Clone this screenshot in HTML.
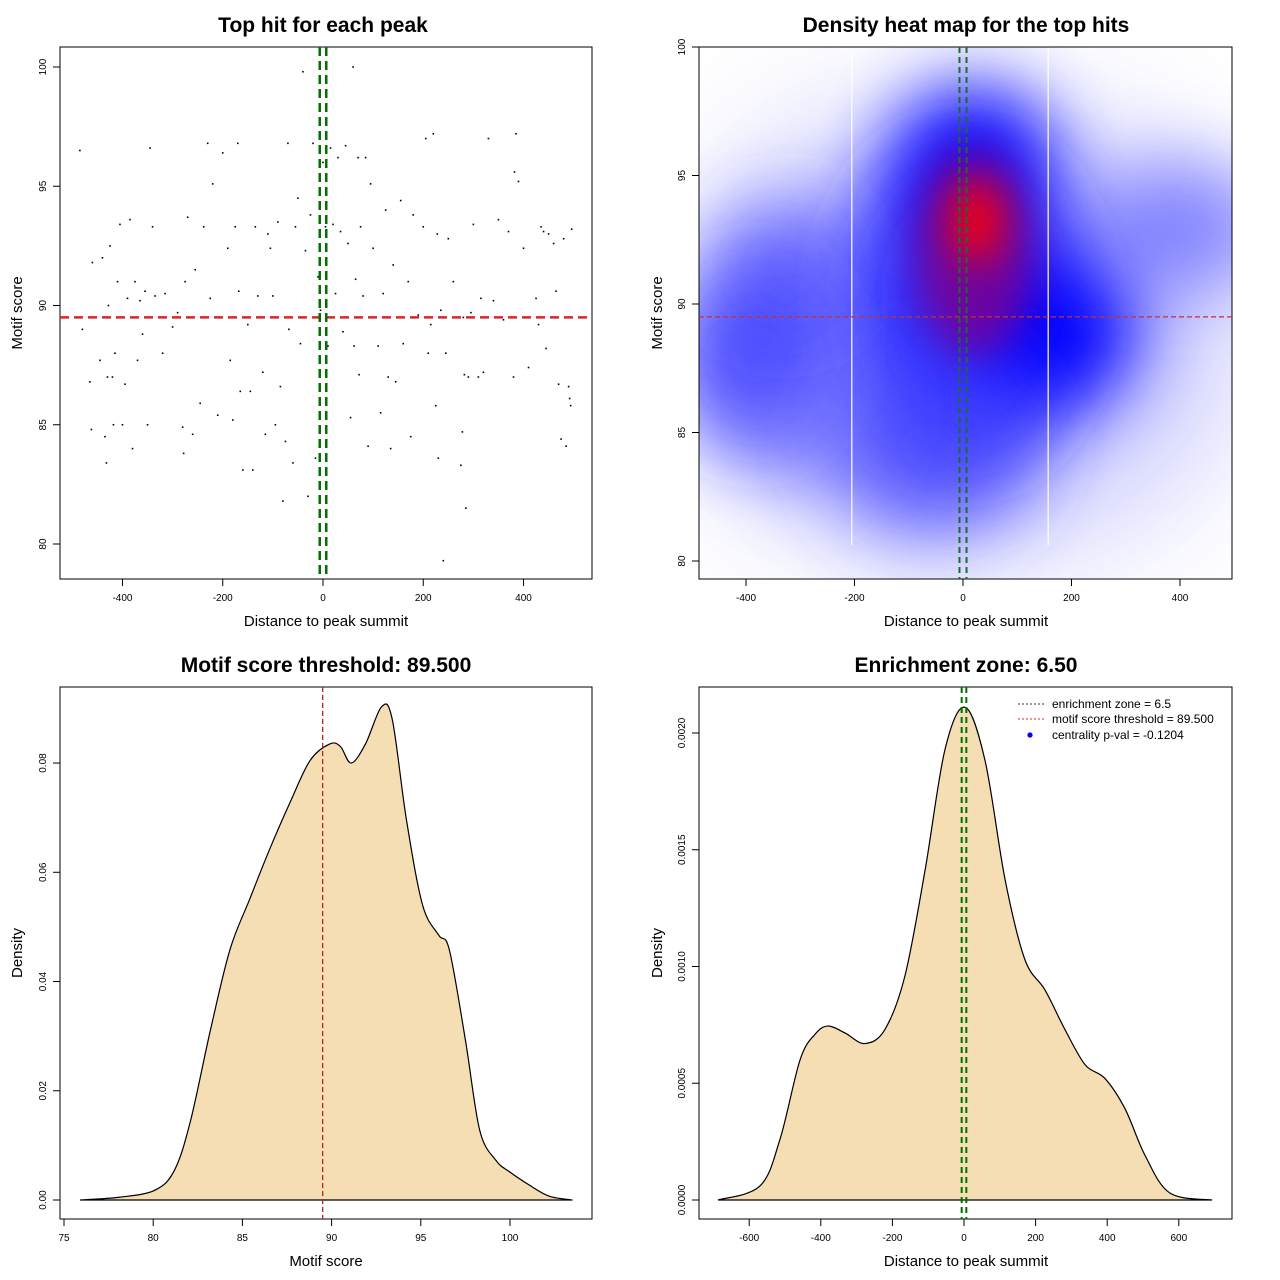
<!DOCTYPE html>
<html><head><meta charset="utf-8"><style>
body{margin:0;background:#fff;}
svg{display:block;font-family:"Liberation Sans",sans-serif;}
</style></head><body>
<svg id="c" width="1280" height="1280" viewBox="0 0 1280 1280" xmlns="http://www.w3.org/2000/svg">
<defs>
<filter id="b1" filterUnits="userSpaceOnUse" x="500" y="-200" width="900" height="1000"><feGaussianBlur stdDeviation="38"/></filter>
<filter id="b2" filterUnits="userSpaceOnUse" x="500" y="-200" width="900" height="1000"><feGaussianBlur stdDeviation="20"/></filter>
<filter id="b3" filterUnits="userSpaceOnUse" x="500" y="-200" width="900" height="1000"><feGaussianBlur stdDeviation="60"/></filter>
<clipPath id="cp2"><rect x="699" y="47" width="533" height="532"/></clipPath>
</defs>
</svg>
<script>
// ---- data ----
const scatterX=[-485,-480,-465,-460,-462,-445,-440,-435,-432,-430,-428,-425,-420,-418,-415,-410,-405,-400,-395,-390,-385,-380,-375,-370,-365,-360,-355,-350,-345,-340,-335,-320,-315,-300,-290,-280,-278,-275,-270,-260,-255,-245,-238,-230,-225,-220,-210,-200,-190,-185,-180,-175,-170,-168,-165,-160,-150,-145,-140,-135,-130,-120,-115,-110,-105,-100,-95,-90,-85,-80,-75,-70,-68,-60,-55,-50,-45,-40,-35,-30,-25,-20,-15,-10,-5,0,5,10,15,20,25,30,35,40,45,50,55,60,62,65,70,72,75,80,85,90,95,100,110,115,120,125,130,135,140,145,155,160,170,175,180,190,200,205,210,215,220,225,228,230,235,240,245,250,260,275,278,280,282,285,290,295,300,310,315,320,330,340,350,360,370,380,382,385,390,400,410,425,430,435,440,445,450,460,465,470,475,480,490,492,494,496,485];
const scatterY=[96.5,89,86.8,91.8,84.8,87.7,92,84.5,83.4,87,90,92.5,87,85,88,91,93.4,85,86.7,90.3,93.6,84,91,87.7,90.2,88.8,90.6,85,96.6,93.3,90.4,88,90.5,89.1,89.7,84.9,83.8,91,93.7,84.6,91.5,85.9,93.3,96.8,90.3,95.1,85.4,96.4,92.4,87.7,85.2,93.3,96.8,90.6,86.4,83.1,89.2,86.4,83.1,93.3,90.4,87.2,84.6,93,92.4,90.4,85,93.5,86.6,81.8,84.3,96.8,89,83.4,93.3,94.5,88.4,99.8,92.3,82,93.8,96.8,83.6,91.2,89.8,96,93.3,88.3,96.6,93.4,90.5,96.2,93.1,88.9,96.7,92.6,85.3,100,88.3,91.1,96.2,87.1,93.3,90.4,96.2,84.1,95.1,92.4,88.3,85.5,90.5,94,87,84,91.7,86.8,94.4,88.4,91,84.5,93.8,89.6,93.3,97,88,89.2,97.2,85.8,93,83.6,89.8,79.3,88,92.8,91,83.3,84.7,89.5,87.1,81.5,87,89.7,93.4,87,90.3,87.2,97,90.2,93.6,89.4,93.1,87,95.6,97.2,95.2,92.4,87.4,90.3,89.2,93.3,93.1,88.2,93,92.6,90.6,86.7,84.4,92.8,86.6,86.1,85.8,93.2,84.1];
const scoreX=[75.9,78.1,80.1,81.2,82.1,83.2,84.3,85.4,86.5,87.7,88.8,89.9,90.5,91.1,91.9,92.8,93.4,94.2,95.1,96.0,96.6,97.5,98.3,99.2,100.0,101.1,102.2,103.5];
const scoreD=[0,0.0005,0.0018,0.0055,0.0146,0.031,0.0458,0.055,0.064,0.073,0.0805,0.0835,0.083,0.080,0.0835,0.0903,0.088,0.0695,0.054,0.0485,0.0458,0.0293,0.0128,0.0073,0.0051,0.0027,0.0007,0];
const distX=[-687,-570,-514,-458,-416,-380,-332,-277,-221,-165,-109,-53,3,59,115,170,226,282,338,394,450,506,575,693];
const distD=[0,0.00006,0.00026,0.0006,0.00071,0.000745,0.000715,0.00067,0.00073,0.00096,0.00141,0.00193,0.00211,0.00188,0.00137,0.00103,0.0009,0.00073,0.00058,0.00052,0.00039,0.00019,0.00003,0];
const xTicks1=[-400,-200,0,200,400];
const yTicks1=[80,85,90,95,100];
const xTicks3=[75,80,85,90,95,100];
const yTicks3=[0,0.02,0.04,0.06,0.08];
const yTickLabels3=["0.00","0.02","0.04","0.06","0.08"];
const xTicks4=[-600,-400,-200,0,200,400,600];
const yTicks4=[0,0.0005,0.001,0.0015,0.002];
const yTickLabels4=["0.0000","0.0005","0.0010","0.0015","0.0020"];
const threshold=89.5, zone=6.5;
// heat blobs
const heatX=[0,0,-380,160,400,-60,20,-300,-330,20,25];
const heatY=[89,90,88,89,93,84.5,95.5,86,91.5,92,93.2];
const heatRX=[520,230,150,160,170,190,140,130,130,110,45];
const heatRY=[9,6.5,3.5,3,2.5,3.5,3,3,2.5,4,1.6];
const heatC=["#9090ff","#2020ff","#2a2aff","#0000ff","#5050ff","#4040ff","#0000ff","#6060ff","#3030ff","#7a0090","#ff0000"];
const heatO=[0.45,0.9,0.8,0.95,0.65,0.75,0.9,0.55,0.6,0.85,1];
const heatB=["b3","b1","b1","b1","b1","b1","b1","b1","b1","b2","b2"];

const svg=document.getElementById('c');
const NS="http://www.w3.org/2000/svg";
function mk(tag,attrs,parent){const e=document.createElementNS(NS,tag);for(const k in attrs)e.setAttribute(k,attrs[k]);(parent||svg).appendChild(e);return e;}
function txt(x,y,s,size,opt){const t=mk('text',Object.assign({x:x,y:y,'font-size':size,'text-anchor':'middle',fill:'#000'},opt||{}));t.textContent=s;return t;}
function smooth(pts){let d='M'+pts[0][0]+','+pts[0][1];for(let i=0;i<pts.length-1;i++){const p0=pts[Math.max(0,i-1)],p1=pts[i],p2=pts[i+1],p3=pts[Math.min(pts.length-1,i+2)];const c1=[p1[0]+(p2[0]-p0[0])/6,p1[1]+(p2[1]-p0[1])/6],c2=[p2[0]-(p3[0]-p1[0])/6,p2[1]-(p3[1]-p1[1])/6];d+=' C'+c1+' '+c2+' '+p2;}return d;}

const sx1=v=>323+v*0.5013, sy1=v=>67+(100-v)*23.85;
const sx2=v=>963+v*0.5425, sy2=v=>47+(100-v)*25.7;
const sx3=v=>64+(v-75)*17.84, sy3=v=>1200-v*5462;
const sx4=v=>964+v*0.358, sy4=v=>1200-v*233500;

function frame(x,y,w,h,name){const r=mk('rect',{x:x,y:y,width:w,height:h,fill:'none',stroke:'#000','stroke-width':1});}
function xAxis(ticks,labels,sx,yb,name){const g=mk('g',{});
 ticks.forEach((t,i)=>{mk('line',{x1:sx(t),x2:sx(t),y1:yb,y2:yb+7,stroke:'#000'},g);const l=txt(sx(t),yb+22,labels[i],10);g.appendChild(l);});}
function yAxis(ticks,labels,sy,xl,name){const g=mk('g',{});
 ticks.forEach((t,i)=>{mk('line',{x1:xl-7,x2:xl,y1:sy(t),y2:sy(t),stroke:'#000'},g);const l=txt(0,0,labels[i],10,{transform:'translate('+(xl-14)+','+sy(t)+') rotate(-90)'});g.appendChild(l);});}

// ---------- Panel 1 ----------
let t=txt(323,32,'Top hit for each peak',21,{'font-weight':'bold'});

frame(60,47,532,532,'scatter-plot-area');
scatterX.forEach((x,i)=>{const p=mk('rect',{x:sx1(x)-0.8,y:sy1(scatterY[i])-0.8,width:1.6,height:1.6,fill:'#000'});

});
let l=mk('line',{x1:60,x2:592,y1:sy1(threshold),y2:sy1(threshold),stroke:'#d62728','stroke-width':2.5,'stroke-dasharray':'9,5'});

[-zone,zone].forEach(z=>{const g=mk('line',{x1:sx1(z),x2:sx1(z),y1:47,y2:579,stroke:'#007000','stroke-width':2.5,'stroke-dasharray':'9,5'});
});
xAxis(xTicks1,xTicks1.map(String),sx1,579,'x-axis-scatter');
yAxis(yTicks1,yTicks1.map(String),sy1,60,'y-axis-scatter');
t=txt(326,626,'Distance to peak summit',15);
t=txt(0,0,'Motif score',15,{transform:'translate(22,313) rotate(-90)'});

// ---------- Panel 2 ----------
t=txt(966,32,'Density heat map for the top hits',21,{'font-weight':'bold'});

const hg=mk('g',{'clip-path':'url(#cp2)'});
mk('rect',{x:699,y:47,width:533,height:532,fill:'#fff'},hg);
heatX.forEach((x,i)=>{const e=mk('ellipse',{cx:sx2(x),cy:sy2(heatY[i]),rx:heatRX[i]*0.5425,ry:heatRY[i]*25.7,fill:heatC[i],opacity:heatO[i],filter:'url(#'+heatB[i]+')'},hg);

});
[-205,157].forEach(v=>mk('line',{x1:sx2(v),x2:sx2(v),y1:47,y2:545,stroke:'#fff','stroke-width':1.2},hg));
frame(699,47,533,532,'heatmap-plot-area');
l=mk('line',{x1:699,x2:1232,y1:sy2(threshold),y2:sy2(threshold),stroke:'#c0303a','stroke-width':1.3,'stroke-dasharray':'5,3'});

[-zone,zone].forEach(z=>{const g=mk('line',{x1:sx2(z),x2:sx2(z),y1:47,y2:579,stroke:'#1a6e2a','stroke-width':2,'stroke-dasharray':'6,4'});
});
xAxis(xTicks1,xTicks1.map(String),sx2,579,'x-axis-heatmap');
yAxis(yTicks1,yTicks1.map(String),sy2,699,'y-axis-heatmap');
t=txt(966,626,'Distance to peak summit',15);
t=txt(0,0,'Motif score',15,{transform:'translate(662,313) rotate(-90)'});

// ---------- Panel 3 ----------
t=txt(326,672,'Motif score threshold: 89.500',21,{'font-weight':'bold'});

frame(60,687,532,532,'score-density-plot-area');
let pts=scoreX.map((x,i)=>[sx3(x),sy3(scoreD[i])]);
let p=mk('path',{d:smooth(pts)+' Z',fill:'#f5deb3',stroke:'#000','stroke-width':1.2});

l=mk('line',{x1:sx3(threshold),x2:sx3(threshold),y1:687,y2:1219,stroke:'#b22222','stroke-width':1.3,'stroke-dasharray':'5,3'});

xAxis(xTicks3,xTicks3.map(String),sx3,1219,'x-axis-score-density');
yAxis(yTicks3,yTickLabels3,sy3,60,'y-axis-score-density');
t=txt(326,1266,'Motif score',15);
t=txt(0,0,'Density',15,{transform:'translate(22,953) rotate(-90)'});

// ---------- Panel 4 ----------
t=txt(966,672,'Enrichment zone: 6.50',21,{'font-weight':'bold'});

frame(699,687,533,532,'distance-density-plot-area');
pts=distX.map((x,i)=>[sx4(x),sy4(distD[i])]);
p=mk('path',{d:smooth(pts)+' Z',fill:'#f5deb3',stroke:'#000','stroke-width':1.2});

[-zone,zone].forEach(z=>{const g=mk('line',{x1:sx4(z),x2:sx4(z),y1:687,y2:1219,stroke:'#007000','stroke-width':2,'stroke-dasharray':'6,4'});
});
xAxis(xTicks4,xTicks4.map(String),sx4,1219,'x-axis-distance-density');
yAxis(yTicks4,yTickLabels4,sy4,699,'y-axis-distance-density');
t=txt(966,1266,'Distance to peak summit',15);
t=txt(0,0,'Density',15,{transform:'translate(662,953) rotate(-90)'});
const lg=mk('g',{});
mk('line',{x1:1018,x2:1044,y1:704,y2:704,stroke:'#333','stroke-dasharray':'2,2'},lg);
mk('line',{x1:1018,x2:1044,y1:719,y2:719,stroke:'#e02020','stroke-dasharray':'2,2'},lg);
mk('circle',{cx:1030,cy:735,r:2.6,fill:'#0000ff'},lg);
[['enrichment zone = 6.5',708],['motif score threshold = 89.500',723],['centrality p-val = -0.1204',739]].forEach(a=>{const e=txt(1052,a[1],a[0],12,{'text-anchor':'start'});lg.appendChild(e);});
</script>
</body></html>
